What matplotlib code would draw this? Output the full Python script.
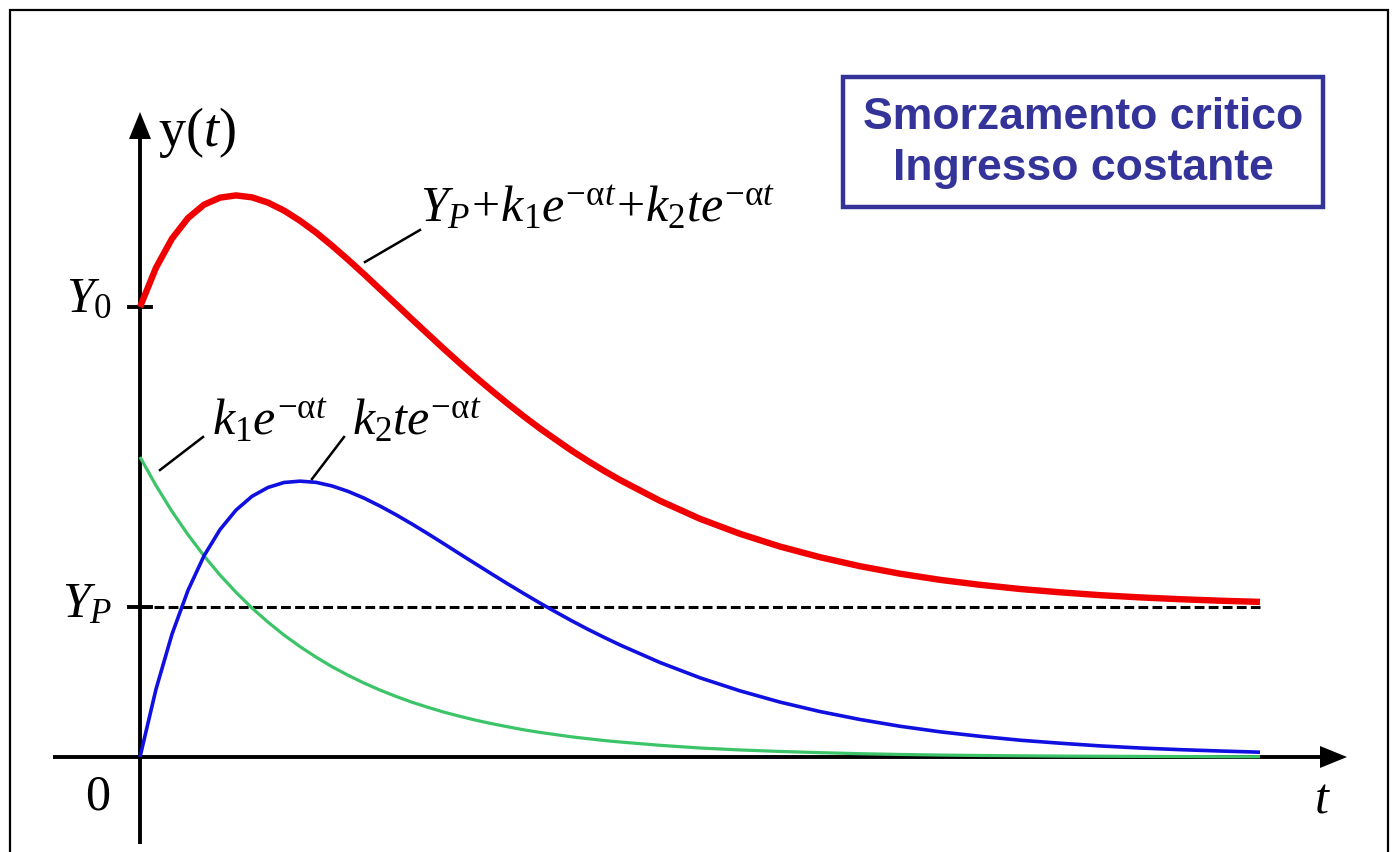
"""Critically damped response to a constant input: y(t) and its components."""
import matplotlib
matplotlib.use("Agg")
import matplotlib.pyplot as plt
from matplotlib.patches import Rectangle, FancyArrow

plt.rcParams["mathtext.fontset"] = "custom"
plt.rcParams["mathtext.rm"] = "Liberation Serif"
plt.rcParams["mathtext.it"] = "Liberation Serif:italic"

# time in units of 1/alpha, y in units of Y_P
t = [0.0, 0.1, 0.2, 0.3, 0.4, 0.5, 0.6, 0.7, 0.8, 0.9, 1.0, 1.1, 1.2, 1.3, 1.4,
     1.5, 1.6, 1.7, 1.8, 1.9, 2.0, 2.1, 2.2, 2.3, 2.4, 2.5, 2.6, 2.7, 2.8, 2.9,
     3.0, 3.25, 3.5, 3.75, 4.0, 4.25, 4.5, 4.75, 5.0, 5.25, 5.5, 5.75, 6.0,
     6.25, 6.5, 6.75, 7.0]
y_total = [3.000, 3.262, 3.456, 3.593, 3.682, 3.729, 3.744, 3.731, 3.696, 3.643,
           3.575, 3.497, 3.409, 3.316, 3.219, 3.119, 3.019, 2.918, 2.819, 2.720,
           2.624, 2.531, 2.441, 2.354, 2.270, 2.190, 2.115, 2.041, 1.973, 1.908,
           1.847, 1.708, 1.588, 1.488, 1.403, 1.332, 1.272, 1.222, 1.181, 1.148,
           1.120, 1.098, 1.079, 1.064, 1.052, 1.042, 1.034]
k1_term = [2.000, 1.810, 1.637, 1.482, 1.341, 1.213, 1.098, 0.993, 0.899, 0.813,
           0.736, 0.666, 0.602, 0.545, 0.493, 0.446, 0.404, 0.365, 0.331, 0.299,
           0.271, 0.245, 0.222, 0.201, 0.181, 0.164, 0.149, 0.134, 0.122, 0.110,
           0.100, 0.078, 0.060, 0.047, 0.037, 0.029, 0.022, 0.017, 0.013, 0.010,
           0.008, 0.006, 0.005, 0.004, 0.003, 0.002, 0.002]
k2_term = [0.000, 0.452, 0.819, 1.111, 1.341, 1.516, 1.646, 1.738, 1.797, 1.830,
           1.839, 1.831, 1.807, 1.771, 1.726, 1.673, 1.615, 1.553, 1.488, 1.421,
           1.353, 1.286, 1.219, 1.153, 1.089, 1.026, 0.966, 0.907, 0.851, 0.798,
           0.747, 0.630, 0.528, 0.441, 0.366, 0.303, 0.250, 0.205, 0.168, 0.138,
           0.112, 0.092, 0.074, 0.060, 0.049, 0.040, 0.032]
Y_P = 1.0
Y_0 = 3.0

W, H = 1394, 852
X0, Y0PX = 140, 757       # pixel position of the origin
SX, SY = 160, 150         # pixels per unit

fig = plt.figure(figsize=(W / 100, H / 100), dpi=100)
ax = fig.add_axes([0, 0, 1, 1])
ax.set_xlim(-X0 / SX, (W - X0) / SX)
ax.set_ylim(-(H - Y0PX) / SY, Y0PX / SY)
ax.axis("off")


def px(x, y):
    """pixel (from top-left) -> data coords"""
    return (x - X0) / SX, (Y0PX - y) / SY


# outer frame
fig.patches.append(Rectangle((10 / W, -0.1), (1388 - 10) / W, 1.1 - 10 / H,
                             transform=fig.transFigure, fill=False,
                             ec="black", lw=1.6))

# axes with arrows
xa, _ = px(53, 757)
xb, _ = px(1322, 757)
ax.plot([xa, xb], [0, 0], color="black", lw=2.8, solid_capstyle="butt")
ax.add_patch(FancyArrow(xb, 0, 25 / SX, 0, width=0, head_width=22 / SY,
                        head_length=27 / SX, length_includes_head=True,
                        color="black", lw=0))
_, yb = px(140, 844)
_, yt = px(140, 137)
ax.plot([0, 0], [yb, yt], color="black", lw=2.8, solid_capstyle="butt")
ax.add_patch(FancyArrow(0, yt, 0, 25 / SY, width=0, head_width=22 / SX,
                        head_length=27 / SY, length_includes_head=True,
                        color="black", lw=0))

# ticks at Y_0 and Y_P
for v in (Y_0, Y_P):
    ax.plot([-11 / SX, 11 / SX], [v, v], color="black", lw=2.8)

# steady-state level
ax.plot([0, t[-1]], [Y_P, Y_P], color="black", lw=2.2, dashes=(3.2, 1.4))

ax.plot(t, k1_term, color="#3cc468", lw=2.3, solid_capstyle="butt")
ax.plot(t, k2_term, color="#1010e0", lw=2.6, solid_capstyle="butt")
ax.plot(t, y_total, color="#f00000", lw=4.6, solid_capstyle="butt")

# leader lines
for (x1, y1), (x2, y2) in [((365, 262), (420, 230)),
                           ((160, 470), (203, 437)),
                           ((312, 479), (344, 437))]:
    p1, p2 = px(x1, y1), px(x2, y2)
    ax.plot([p1[0], p2[0]], [p1[1], p2[1]], color="black", lw=1.8)

serif = "Liberation Serif"
fs = 36
ax.text(*px(158, 132), r"y($\mathit{t}$)", fontsize=39, family=serif,
        ha="left", va="center")
ax.text(*px(112, 300), r"$Y_0$", fontsize=fs, family=serif, ha="right", va="center")
ax.text(*px(112, 605), r"$Y_P$", fontsize=fs, family=serif, ha="right", va="center")
ax.text(*px(98, 797), "0", fontsize=fs, family=serif, ha="center", va="center")
ax.text(*px(1322, 800), r"$t$", fontsize=fs, family=serif, ha="center", va="center")

ax.text(*px(420, 222),
        r"$Y_P\!+\!k_1e^{-\mathrm{\alpha} t}\!+\!k_2te^{-\mathrm{\alpha} t}$",
        fontsize=fs, family=serif, ha="left", va="baseline")
ax.text(*px(212, 435), r"$k_1e^{-\mathrm{\alpha} t}$", fontsize=fs, family=serif,
        ha="left", va="baseline")
ax.text(*px(352, 435), r"$k_2te^{-\mathrm{\alpha} t}$", fontsize=fs, family=serif,
        ha="left", va="baseline")

# title box
navy = "#333399"
bx0, by0 = px(843, 207)
bx1, by1 = px(1323, 77)
ax.add_patch(Rectangle((bx0, by0), bx1 - bx0, by1 - by0, fill=False,
                       ec=navy, lw=3.2))
ax.text(*px(1083, 143), "Smorzamento critico\nIngresso costante",
        fontsize=32, family="Liberation Sans", weight="bold", color=navy,
        ha="center", va="center", linespacing=1.32)

fig.savefig("out.png", dpi=100)
